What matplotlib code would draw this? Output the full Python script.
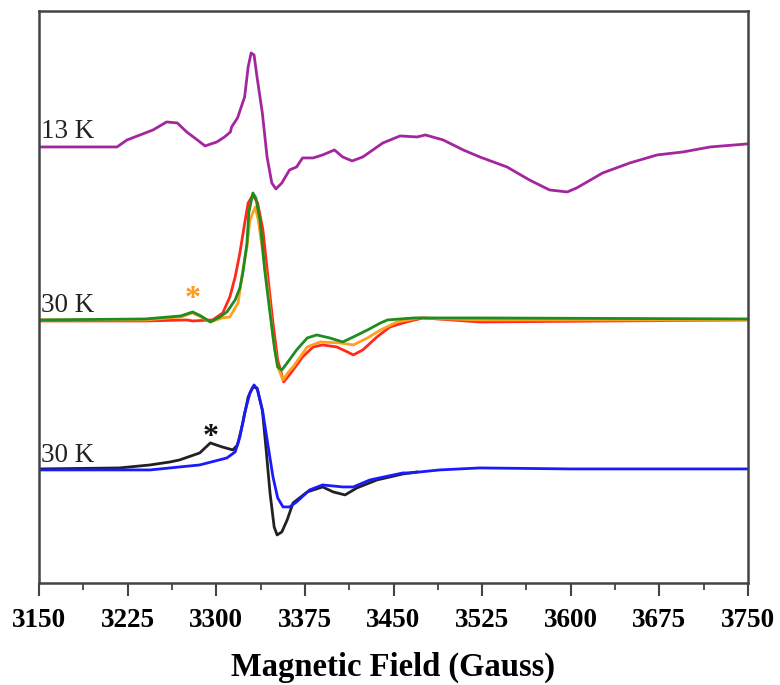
import numpy as np
import matplotlib
matplotlib.use('Agg')
import matplotlib.pyplot as plt
from matplotlib.ticker import MultipleLocator

# Field values (Gauss) and signal relative to each trace's baseline (arb. units)
field_13k = [3150, 3216, 3224.5, 3235.5, 3246.5, 3258, 3267, 3275, 3284, 3290.5,
             3300.5, 3307, 3312, 3313, 3318, 3324, 3327, 3329.5, 3332, 3334.5,
             3339, 3343, 3347, 3350.5, 3355.5, 3358, 3362, 3368, 3373, 3382,
             3390, 3400, 3407, 3415, 3424, 3441, 3455.5, 3470, 3477, 3492,
             3509, 3523, 3546, 3565, 3582, 3597, 3605, 3627, 3650, 3673, 3695,
             3718, 3749]
sig_13k = [0, 0, 7, 12, 17, 25, 24, 15, 7, 1,
           5, 10, 15, 20, 29, 50, 80, 94, 92, 70,
           34, -10, -36, -42, -36, -31, -23, -20, -11, -11,
           -8, -3, -10, -14, -10, 4, 11, 10, 12, 7,
           -3, -10, -20, -33, -43, -45, -41, -26, -16, -8, -5,
           0, 3]

field_green = [3150, 3240, 3270, 3280, 3287, 3295, 3303, 3309, 3316, 3320, 3322.5,
               3326, 3327.5, 3331, 3333.5, 3337, 3341, 3345.5, 3349.5, 3352, 3355.5,
               3360, 3368, 3377, 3385, 3396, 3407, 3416, 3428, 3439, 3445, 3467,
               3523, 3750]
sig_green = [0, 1, 4, 8, 4, -2, 3, 8, 20, 32, 47,
             77, 107, 127, 122, 100, 50, 7, -30, -47, -50,
             -43, -30, -18, -15, -18, -22, -17, -10, -3, 0, 2,
             2, 1]

field_red = [3150, 3240, 3275, 3280, 3297, 3305.5, 3311.5, 3316, 3320, 3324.5,
             3327, 3331, 3335, 3339.5, 3344, 3348, 3352, 3357, 3360.5, 3365,
             3373, 3382, 3390, 3402, 3411, 3416, 3424, 3436, 3447, 3461, 3475,
             3523, 3750]
sig_red = [-1, -1, 0, -1, 0, 7, 23, 43, 67, 100,
           117, 125, 117, 90, 40, -3, -40, -62, -57, -50,
           -37, -27, -25, -27, -32, -35, -30, -17, -7, -2, 2,
           -2, 0]

field_orange = [3150, 3240, 3270, 3280, 3287, 3295, 3305, 3311.5, 3318.5, 3322.5,
                3326, 3328.5, 3333, 3335.5, 3339.5, 3344, 3348, 3352, 3356.5,
                3360.5, 3365, 3377, 3388, 3405, 3416, 3428, 3439, 3453, 3472,
                3523, 3750]
sig_orange = [0, 0, 3, 7, 3, -2, 2, 3, 17, 50,
              73, 100, 113, 100, 67, 27, -17, -47, -60,
              -53, -47, -27, -22, -23, -25, -18, -10, -2, 2,
              0, 0]

field_black = [3150, 3218, 3244, 3261, 3269, 3286, 3295, 3305, 3314, 3318, 3322.5,
               3327, 3331, 3334.5, 3339, 3342, 3345.5, 3349, 3351.5, 3355.5, 3360,
               3365, 3377, 3390, 3399, 3409, 3419, 3436, 3458, 3470]
sig_black = [0, 1, 4, 7, 9, 16, 26, 22, 19, 24, 46,
             72, 82, 81, 59, 22, -24, -58, -66, -63, -51,
             -34, -23, -18, -23, -26, -19, -11, -5, -3]

field_blue = [3150, 3244, 3286, 3309, 3316, 3320, 3324, 3328.5, 3332, 3335,
              3339.5, 3344, 3348, 3352, 3356.5, 3362, 3368, 3379, 3390, 3407,
              3416, 3430, 3458, 3464, 3489, 3523, 3600, 3750]
sig_blue = [-1, -1, 4, 11, 17, 32, 56, 76, 84, 79,
            56, 22, -8, -29, -38, -38, -33, -21, -16, -18,
            -18, -11, -4, -4, -1, 1, 0, 0]

# vertical offsets of the stacked spectra
off_13k = 436
off_mid = 263
off_bot = 114

labels = ['13 K', '30 K', '30 K']
xticks = [3150, 3225, 3300, 3375, 3450, 3525, 3600, 3675, 3750]

plt.rcParams['font.family'] = ['Liberation Serif', 'DejaVu Serif']

fig = plt.figure(figsize=(7.8, 6.85), dpi=100)
ax = fig.add_axes([0.05, 0.149, 0.909, 0.835])

lw = 2.0
ax.plot(field_13k, np.array(sig_13k) + off_13k, color='#a3269f', lw=lw)
ax.plot(field_red, np.array(sig_red) + off_mid, color='#ff2a1a', lw=lw)
ax.plot(field_orange, np.array(sig_orange) + off_mid, color='#ffa01e', lw=lw)
ax.plot(field_green, np.array(sig_green) + off_mid, color='#1e8c1e', lw=lw)
ax.plot(field_black, np.array(sig_black) + off_bot, color='#222222', lw=lw)
ax.plot(field_blue, np.array(sig_blue) + off_bot, color='#1a1aff', lw=lw)

# temperature labels
for lab, off, dy in zip(labels, [off_13k, off_mid, off_bot], [15, 14, 13]):
    ax.text(3152, off + dy, lab, fontsize=19.5, color='#222222',
            ha='left', va='center')

# impurity markers
ax.text(3280, off_mid + 20, '*', fontsize=23, color='#ff9a1e', ha='center', va='center',
        fontweight='bold')
ax.text(3295, off_bot + 31, '*', fontsize=23, color='#111111', ha='center', va='center',
        fontweight='bold')

ax.set_xlim(3150, 3750)
ax.set_ylim(0, 572)
ax.set_yticks([])
ax.set_xticks(xticks)
ax.xaxis.set_minor_locator(MultipleLocator(37.5))
ax.tick_params(axis='x', which='major', direction='out', length=9, width=1.5,
               color='#444444', pad=9, labelsize=19.5)
ax.tick_params(axis='x', which='minor', direction='out', length=5, width=1.3,
               color='#444444')
for lab in ax.get_xticklabels():
    lab.set_fontweight('bold')
for sp in ax.spines.values():
    sp.set_color('#444444')
    sp.set_linewidth(1.8)

# axis title placed by hand so the descenders stay inside the canvas
fig.text(0.504, 0.013, 'Magnetic Field (Gauss)', fontsize=23.5, fontweight='bold',
         ha='center', va='baseline')

fig.savefig('out.png', dpi=100)
